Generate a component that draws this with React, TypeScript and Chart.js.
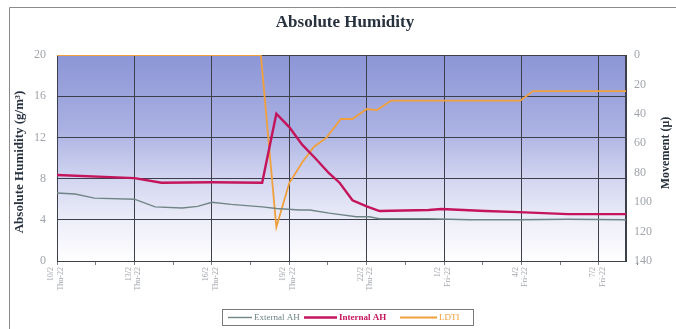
import { useEffect, useRef } from 'react';
import { Chart, registerables } from 'chart.js';

Chart.register(...registerables);

// Major x ticks (days from start), with their two-line labels
const tickDays = [0, 3, 6, 9, 12, 15, 18, 21];
const tickDates = ['10/2', '13/2', '16/2', '19/2', '22/2', '1/2', '4/2', '7/2'];
const tickWeekdays = ['Thu-22', 'Thu-22', 'Thu-22', 'Thu-22', 'Thu-22', 'Fri-22', 'Fri-22', 'Fri-22'];
const lastDay = 22.05;

// External absolute humidity (g/m3)
const externalDays = [0, 0.7, 1.45, 3.0, 3.8, 4.85, 5.45, 6.0, 6.75, 7.95, 8.5, 9.4, 9.8, 10.55, 11.6, 12.1, 12.5, 14.4, 16.0, 17.9, 19.8, 22.05];
const externalAH = [6.6, 6.5, 6.1, 6.0, 5.25, 5.15, 5.3, 5.7, 5.5, 5.25, 5.1, 4.95, 4.95, 4.65, 4.3, 4.3, 4.1, 4.1, 4.0, 4.0, 4.05, 4.0];

// Internal absolute humidity (g/m3)
const internalDays = [0, 3.0, 4.05, 6.0, 7.95, 8.5, 9.0, 9.5, 10.0, 10.55, 10.95, 11.45, 12.0, 12.5, 14.4, 14.9, 16.6, 17.9, 19.8, 22.05];
const internalAH = [8.35, 8.05, 7.6, 7.65, 7.6, 14.3, 13.0, 11.3, 10.0, 8.5, 7.6, 5.9, 5.3, 4.85, 4.95, 5.05, 4.85, 4.75, 4.55, 4.55];

// LDTI movement (microns), plotted on the reversed right axis
const ldtiDays = [0, 7.9, 8.5, 9.0, 9.5, 9.95, 10.45, 11.0, 11.45, 12.0, 12.4, 12.95, 17.95, 18.45, 22.05];
const ldtiMovement = [0, 0, 117, 87, 73, 62.5, 56, 43.5, 43.5, 36.7, 37.4, 31, 31, 24.5, 24.5];

const SERIF = '"Liberation Serif", "DejaVu Serif", serif';
const GRID = '#3d3f4a';

const toPoints = (xs: number[], ys: number[]) => xs.map((x, i) => ({ x, y: ys[i] }));

// Major and half-way minor tick positions along the x axis
const allTicks: number[] = [];
tickDays.forEach((d, i) => {
  allTicks.push(d);
  if (i < tickDays.length - 1) allTicks.push((d + tickDays[i + 1]) / 2);
});
allTicks.push(tickDays[tickDays.length - 1] + 1.5);

const decorPlugin = {
  id: 'decor',
  beforeDraw(chart: any) {
    const { ctx, chartArea: a } = chart;
    ctx.save();
    // outer frame lines
    ctx.strokeStyle = '#8a8a8a';
    ctx.lineWidth = 1;
    ctx.beginPath();
    ctx.moveTo(9.5, 329);
    ctx.lineTo(9.5, 7.5);
    ctx.lineTo(676, 7.5);
    ctx.stroke();
    // plot background gradient
    const g = ctx.createLinearGradient(0, a.top, 0, a.bottom);
    g.addColorStop(0, '#8c95d6');
    g.addColorStop(0.35, '#a9b0e2');
    g.addColorStop(0.6, '#d2d5f0');
    g.addColorStop(0.82, '#eeeff9');
    g.addColorStop(1, '#ffffff');
    ctx.fillStyle = g;
    ctx.fillRect(a.left, a.top, a.right - a.left, a.bottom - a.top);
    ctx.restore();
  },
  beforeDatasetsDraw(chart: any) {
    const { ctx, chartArea: a } = chart;
    ctx.save();
    ctx.strokeStyle = GRID;
    ctx.lineWidth = 1;
    ctx.strokeRect(a.left + 0.5, a.top + 0.5, a.right - a.left - 1, a.bottom - a.top);
    ctx.restore();
  },
  afterDraw(chart: any) {
    const { ctx } = chart;
    ctx.save();
    // title
    ctx.fillStyle = '#28323e';
    ctx.textAlign = 'center';
    ctx.textBaseline = 'middle';
    ctx.font = `bold 17px ${SERIF}`;
    ctx.fillText('Absolute Humidity', 345, 23);
    // axis titles
    ctx.font = `bold 13px ${SERIF}`;
    ctx.save();
    ctx.translate(20, 162);
    ctx.rotate(-Math.PI / 2);
    ctx.fillText('Absolute Humidity (g/m³)', 0, 0);
    ctx.restore();
    ctx.font = `bold 12px ${SERIF}`;
    ctx.save();
    ctx.translate(666, 153);
    ctx.rotate(-Math.PI / 2);
    ctx.fillText('Movement (μ)', 0, 0);
    ctx.restore();

    // legend
    const top = 309;
    const h = 16;
    const left = 222;
    const right = 473;
    ctx.fillStyle = '#ffffff';
    ctx.fillRect(left, top, right - left, h);
    ctx.strokeStyle = '#7a7a7a';
    ctx.lineWidth = 1;
    ctx.strokeRect(left + 0.5, top + 0.5, right - left, h);
    const cy = top + h / 2 + 0.5;
    const items = chart.data.datasets.map((ds: any, i: number) => ({
      label: ds.label,
      color: ds.borderColor,
      width: ds.borderWidth,
      bold: i === 1,
    }));
    const layout = [
      { x0: 228, x1: 252 },
      { x0: 304, x1: 337 },
      { x0: 400, x1: 437 },
    ];
    ctx.textAlign = 'left';
    items.forEach((it: any, i: number) => {
      const { x0, x1 } = layout[i];
      ctx.strokeStyle = it.color;
      ctx.lineWidth = it.width;
      ctx.beginPath();
      ctx.moveTo(x0, cy);
      ctx.lineTo(x1, cy);
      ctx.stroke();
      ctx.fillStyle = it.color;
      ctx.font = `${it.bold ? 'bold ' : ''}9px ${SERIF}`;
      ctx.fillText(it.label, x1 + 2, cy);
    });
    ctx.restore();
  },
};

export default function App() {
  const canvasRef = useRef<HTMLCanvasElement | null>(null);

  useEffect(() => {
    const canvas = canvasRef.current;
    if (!canvas) return;
    const chart = new Chart(canvas, {
      type: 'line',
      data: {
        datasets: [
          {
            label: 'External AH',
            data: toPoints(externalDays, externalAH),
            borderColor: '#6f8585',
            borderWidth: 1.4,
            yAxisID: 'y',
          },
          {
            label: 'Internal AH',
            data: toPoints(internalDays, internalAH),
            borderColor: '#c4145c',
            borderWidth: 2.4,
            yAxisID: 'y',
          },
          {
            label: 'LDTI',
            data: toPoints(ldtiDays, ldtiMovement),
            borderColor: '#f0a03c',
            borderWidth: 1.8,
            yAxisID: 'y2',
          },
        ],
      },
      options: {
        animation: false,
        responsive: true,
        maintainAspectRatio: false,
        layout: { padding: { top: 55, left: 0, right: 0, bottom: 0 } },
        elements: { point: { radius: 0 }, line: { tension: 0 } },
        plugins: {
          legend: { display: false },
          title: { display: false },
          tooltip: { enabled: false },
        },
        scales: {
          x: {
            type: 'linear',
            min: 0,
            max: lastDay,
            afterFit: (s: any) => {
              s.height = 68;
            },
            afterBuildTicks: (s: any) => {
              s.ticks = allTicks.map((v) => ({ value: v }));
            },
            grid: {
              color: (c: any) => (c.tick && tickDays.includes(c.tick.value) ? GRID : 'rgba(0,0,0,0)'),
              tickColor: '#7b7b80',
              tickLength: 4,
              lineWidth: 1,
            },
            border: { display: true, color: GRID },
            ticks: {
              autoSkip: false,
              minRotation: 90,
              maxRotation: 90,
              padding: 2,
              labelOffset: -6,
              color: '#a3a7ad',
              font: { family: SERIF, size: 8 },
              callback: (v: any) => {
                const i = tickDays.indexOf(Number(v));
                return i >= 0 ? [tickDates[i], tickWeekdays[i]] : '';
              },
            },
          },
          y: {
            position: 'left',
            min: 0,
            max: 20,
            afterFit: (s: any) => {
              s.width = 57;
            },
            grid: { color: GRID, drawTicks: false, lineWidth: 1 },
            border: { display: true, color: GRID },
            ticks: {
              stepSize: 4,
              padding: 11,
              color: '#a0a4ab',
              font: { family: SERIF, size: 12 },
            },
          },
          y2: {
            position: 'right',
            min: 0,
            max: 140,
            reverse: true,
            afterFit: (s: any) => {
              s.width = 50;
            },
            grid: { display: false, drawTicks: false },
            border: { display: true, color: GRID },
            ticks: {
              stepSize: 20,
              padding: 8,
              color: '#a0a4ab',
              font: { family: SERIF, size: 12 },
            },
          },
        },
      },
      plugins: [decorPlugin],
    });
    return () => chart.destroy();
  }, []);

  return (
    <div style={{ position: 'absolute', left: 0, top: 0, width: 676, height: 329, background: '#ffffff' }}>
      <canvas ref={canvasRef} />
    </div>
  );
}
